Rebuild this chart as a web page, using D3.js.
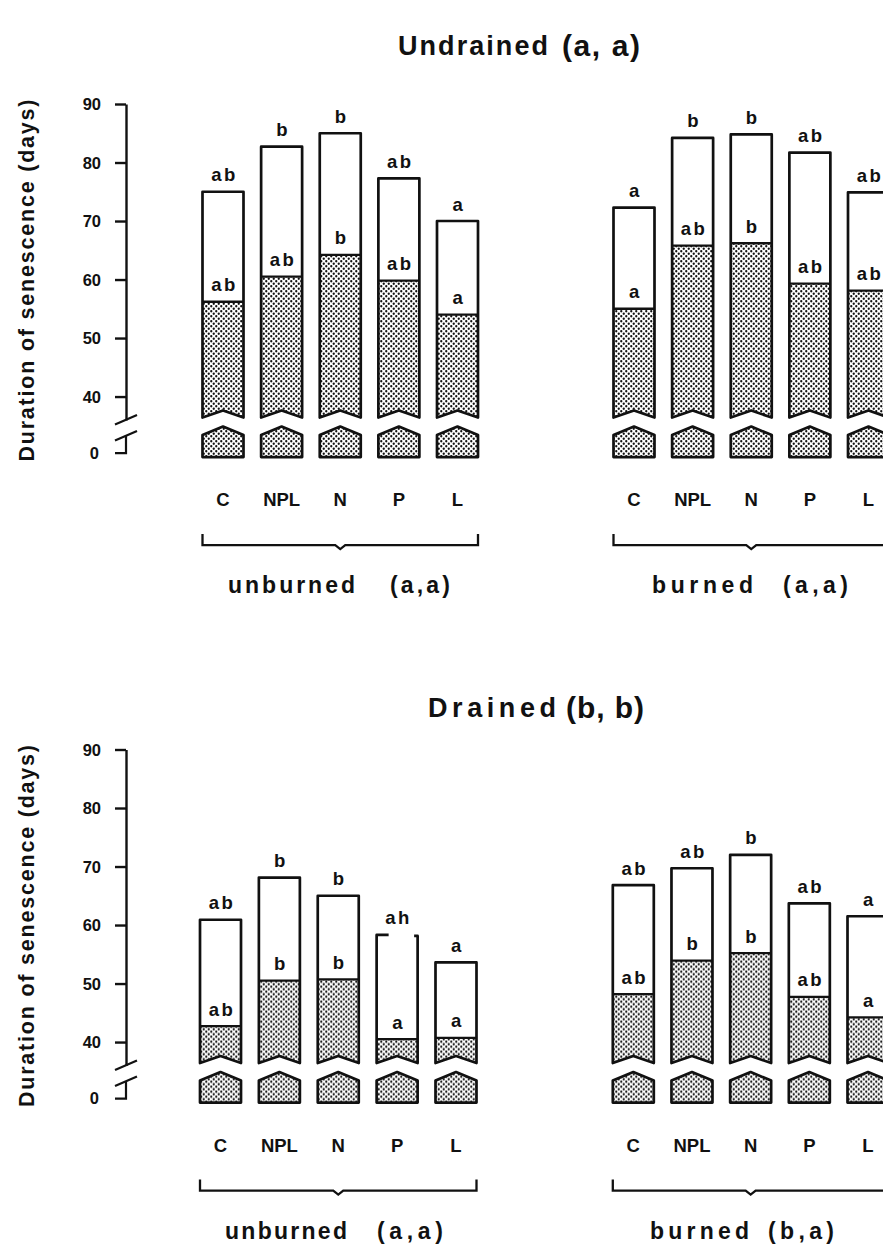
<!DOCTYPE html>
<html>
<head>
<meta charset="utf-8">
<script src="https://cdn.jsdelivr.net/npm/d3@7"></script>
<style>
  body { margin: 0; background: #fff; }
  svg { display: block; }
  text { font-family: "Liberation Sans", Arial, Helvetica, sans-serif; font-weight: bold; fill: #111; }
</style>
</head>
<body>
<svg id="chart" width="883" height="1248"></svg>
<script>
// ---- data -------------------------------------------------------------
const categories = ["C", "NPL", "N", "P", "L"];
const yTicks = [40, 50, 60, 70, 80, 90];

// Undrained, unburned
const undrainedUnburnedStippled = [56.2, 60.5, 64.2, 59.8, 54.0];
const undrainedUnburnedTotal    = [75.0, 82.7, 85.0, 77.3, 70.0];
const undrainedUnburnedStippledLetters = ["ab", "ab", "b", "ab", "a"];
const undrainedUnburnedTotalLetters    = ["ab", "b", "b", "ab", "a"];

// Undrained, burned
const undrainedBurnedStippled = [55.0, 65.8, 66.2, 59.3, 58.1];
const undrainedBurnedTotal    = [72.3, 84.2, 84.8, 81.7, 74.9];
const undrainedBurnedStippledLetters = ["a", "ab", "b", "ab", "ab"];
const undrainedBurnedTotalLetters    = ["a", "b", "b", "ab", "ab"];

// Drained, unburned
const drainedUnburnedStippled = [42.7, 50.5, 50.7, 40.5, 40.7];
const drainedUnburnedTotal    = [60.9, 68.1, 65.0, 58.3, 53.6];
const drainedUnburnedStippledLetters = ["ab", "b", "b", "a", "a"];
const drainedUnburnedTotalLetters    = ["ab", "b", "b", "ah", "a"];

// Drained, burned
const drainedBurnedStippled = [48.2, 53.9, 55.2, 47.7, 44.2];
const drainedBurnedTotal    = [66.8, 69.7, 72.0, 63.7, 61.5];
const drainedBurnedStippledLetters = ["ab", "b", "b", "ab", "a"];
const drainedBurnedTotalLetters    = ["ab", "ab", "b", "ab", "a"];

const panelNames   = ["Undrained", "Drained"];
const panelLetters = ["(a, a)", "(b, b)"];
const groupNames   = ["unburned", "burned"];
const groupLetters = [["(a,a)", "(a,a)"], ["(a,a)", "(b,a)"]];
const yTitle = "Duration of senescence (days)";

// bars whose top outline is printed only as short corner stubs
const openTopBars = [{ panel: 1, group: 0, category: "P" }];

// ---- layout -----------------------------------------------------------
const svg = d3.select("#chart");

// stipple fill
const defs = svg.append("defs");
const ps = 5;
const pat = defs.append("pattern")
  .attr("id", "dots").attr("patternUnits", "userSpaceOnUse")
  .attr("width", ps).attr("height", ps);
pat.append("rect").attr("width", ps).attr("height", ps).attr("fill", "#fff");
pat.append("circle").attr("cx", 1.25).attr("cy", 1.25).attr("r", 1.15).attr("fill", "#111");
pat.append("circle").attr("cx", 3.75).attr("cy", 3.75).attr("r", 1.15).attr("fill", "#111");

const axisX = 126;
const barW = 41;
const breakValue = 36.4;

// titleY values are in page coordinates
const panels = [
  {
    dy: 0,
    titleY: 55, titleX: 398, titleW: 150, lettersX: 562, lettersW: 78,
    groups: [
      { stippled: undrainedUnburnedStippled, total: undrainedUnburnedTotal,
        sLetters: undrainedUnburnedStippledLetters, tLetters: undrainedUnburnedTotalLetters,
        x0: 223, x1: 457.5, nameX: 228, nameW: 127, letX: 390, letW: 60 },
      { stippled: undrainedBurnedStippled, total: undrainedBurnedTotal,
        sLetters: undrainedBurnedStippledLetters, tLetters: undrainedBurnedTotalLetters,
        x0: 634, x1: 868.5, nameX: 652, nameW: 101, letX: 783, letW: 65 }
    ]
  },
  {
    dy: 645.5,
    titleY: 717, titleX: 428, titleW: 128, lettersX: 566, lettersW: 78,
    groups: [
      { stippled: drainedUnburnedStippled, total: drainedUnburnedTotal,
        sLetters: drainedUnburnedStippledLetters, tLetters: drainedUnburnedTotalLetters,
        x0: 220.5, x1: 456, nameX: 225, nameW: 122, letX: 377, letW: 66 },
      { stippled: drainedBurnedStippled, total: drainedBurnedTotal,
        sLetters: drainedBurnedStippledLetters, tLetters: drainedBurnedTotalLetters,
        x0: 633.3, x1: 868, nameX: 650, nameW: 99, letX: 768, letW: 66 }
    ]
  }
];

panels.forEach((p, pi) => {
  // panel title (page coordinates)
  svg.append("text").attr("x", p.titleX).attr("y", p.titleY)
    .attr("font-size", 27).attr("textLength", p.titleW).attr("lengthAdjust", "spacing")
    .text(panelNames[pi]);
  svg.append("text").attr("x", p.lettersX).attr("y", p.titleY + 1)
    .attr("font-size", 30)
    .attr("textLength", p.lettersW).attr("lengthAdjust", "spacing")
    .text(panelLetters[pi]);

  const g = svg.append("g").attr("transform", `translate(0,${p.dy})`);

  const y = d3.scaleLinear().domain([40, 90]).range([396.5, 104]);
  const yb = y(breakValue);          // bottom corners of the upper bar piece
  const yZero = yb + 35.5;           // position of the 0 tick below the break

  // y axis (upper part)
  const axisG = g.append("g").attr("transform", `translate(${axisX},0)`)
    .call(d3.axisLeft(d3.scaleLinear().domain([breakValue - 0.4, 90]).range([yb + 2.4, 104]))
      .tickValues(yTicks).tickSize(11).tickSizeOuter(0).tickPadding(14));
  axisG.select(".domain").attr("stroke", "#111").attr("stroke-width", 2.4);
  axisG.selectAll(".tick line").attr("stroke", "#111").attr("stroke-width", 2.4);
  axisG.selectAll(".tick text").attr("font-size", 16.5).attr("font-family", "Liberation Sans, Arial, sans-serif")
    .attr("font-weight", "bold").attr("fill", "#111").attr("dy", "0.35em");

  // axis break marks and the short part down to zero
  const brk = g.append("g").attr("stroke", "#111").attr("stroke-width", 2.2).attr("fill", "none");
  brk.append("line").attr("x1", axisX - 11).attr("y1", yb + 7).attr("x2", axisX + 11).attr("y2", yb - 2.5);
  brk.append("line").attr("x1", axisX - 11).attr("y1", yb + 23).attr("x2", axisX + 11).attr("y2", yb + 13.5);
  brk.append("path").attr("d", `M${axisX},${yb + 18}V${yZero}H${axisX - 11}`);
  g.append("text").attr("x", 99).attr("y", yZero).attr("dy", "0.35em")
    .attr("text-anchor", "end").attr("font-size", 16.5).text("0");

  // y axis title
  g.append("text")
    .attr("transform", `translate(34,${(104 + yZero) / 2 + 2}) rotate(-90)`)
    .attr("text-anchor", "middle").attr("font-size", 21.5)
    .attr("textLength", 362).attr("lengthAdjust", "spacing")
    .text(yTitle);

  p.groups.forEach((grp, gi) => {
    const x = d3.scalePoint().domain(categories).range([grp.x0, grp.x1]);
    const rows = categories.map((c, i) => ({
      c, s: grp.stippled[i], t: grp.total[i], sl: grp.sLetters[i], tl: grp.tLetters[i],
      open: openTopBars.some(o => o.panel === pi && o.group === gi && o.category === c)
    }));

    const bars = g.append("g").selectAll("g").data(rows).join("g");
    bars.each(function (d) {
      const b = d3.select(this);
      const xl = x(d.c) - barW / 2, xr = x(d.c) + barW / 2, xc = x(d.c);
      const notch = `L${xr},${yb}L${xc},${yb - 7}L${xl},${yb}Z`;
      // white upper part
      b.append("path").attr("d", `M${xl},${y(d.t)}L${xr},${y(d.t)}${notch}`).attr("fill", "#fff");
      // stippled part
      b.append("path").attr("d", `M${xl},${y(d.s)}L${xr},${y(d.s)}${notch}`).attr("fill", "url(#dots)");
      // boundary between the two parts
      b.append("line").attr("x1", xl).attr("x2", xr).attr("y1", y(d.s)).attr("y2", y(d.s))
        .attr("stroke", "#111").attr("stroke-width", 2.3);
      // outline
      if (d.open) {
        b.append("path")
          .attr("d", `M${xl + 12},${y(d.t)}L${xl},${y(d.t)}L${xl},${yb}L${xc},${yb - 7}L${xr},${yb}L${xr},${y(d.t) + 1}L${xr - 3.5},${y(d.t) + 1}`)
          .attr("fill", "none").attr("stroke", "#111").attr("stroke-width", 2.7).attr("stroke-linejoin", "round");
      } else {
        b.append("path").attr("d", `M${xl},${y(d.t)}L${xr},${y(d.t)}${notch}`)
          .attr("fill", "none").attr("stroke", "#111").attr("stroke-width", 2.7).attr("stroke-linejoin", "round");
      }
      // piece below the break
      b.append("path")
        .attr("d", `M${xl},${yb + 17.5}L${xc},${yb + 9}L${xr},${yb + 17.5}L${xr},${yb + 39.5}L${xl},${yb + 39.5}Z`)
        .attr("fill", "url(#dots)").attr("stroke", "#111").attr("stroke-width", 2.7).attr("stroke-linejoin", "round");
      // significance letters
      b.append("text").attr("x", xc + 1.5).attr("y", y(d.t) - 10.5).attr("text-anchor", "middle")
        .attr("font-size", 18.5).attr("letter-spacing", 2.5).text(d.tl);
      b.append("text").attr("x", xc + 1.5).attr("y", y(d.s) - 10.5).attr("text-anchor", "middle")
        .attr("font-size", 18.5).attr("letter-spacing", 2.5).text(d.sl);
    });

    // category labels
    g.append("g").selectAll("text").data(categories).join("text")
      .attr("x", c => x(c)).attr("y", yZero + 53).attr("text-anchor", "middle")
      .attr("font-size", 18.5).text(c => c);

    // bracket
    const bl = grp.x0 - barW / 2, br = grp.x1 + barW / 2, bc = (grp.x0 + grp.x1) / 2;
    const by = yZero + 92;
    g.append("path")
      .attr("d", `M${bl},${by - 11}V${by}H${bc - 5}L${bc},${by + 4}L${bc + 5},${by}H${br}V${by - 11}`)
      .attr("fill", "none").attr("stroke", "#111").attr("stroke-width", 2.3);

    // group label
    g.append("text").attr("x", grp.nameX).attr("y", yZero + 140)
      .attr("font-size", 23).attr("textLength", grp.nameW).attr("lengthAdjust", "spacing")
      .text(groupNames[gi]);
    g.append("text").attr("x", grp.letX).attr("y", yZero + 140)
      .attr("font-size", 23).attr("textLength", grp.letW).attr("lengthAdjust", "spacing")
      .text(groupLetters[pi][gi]);
  });
});
</script>
</body>
</html>
